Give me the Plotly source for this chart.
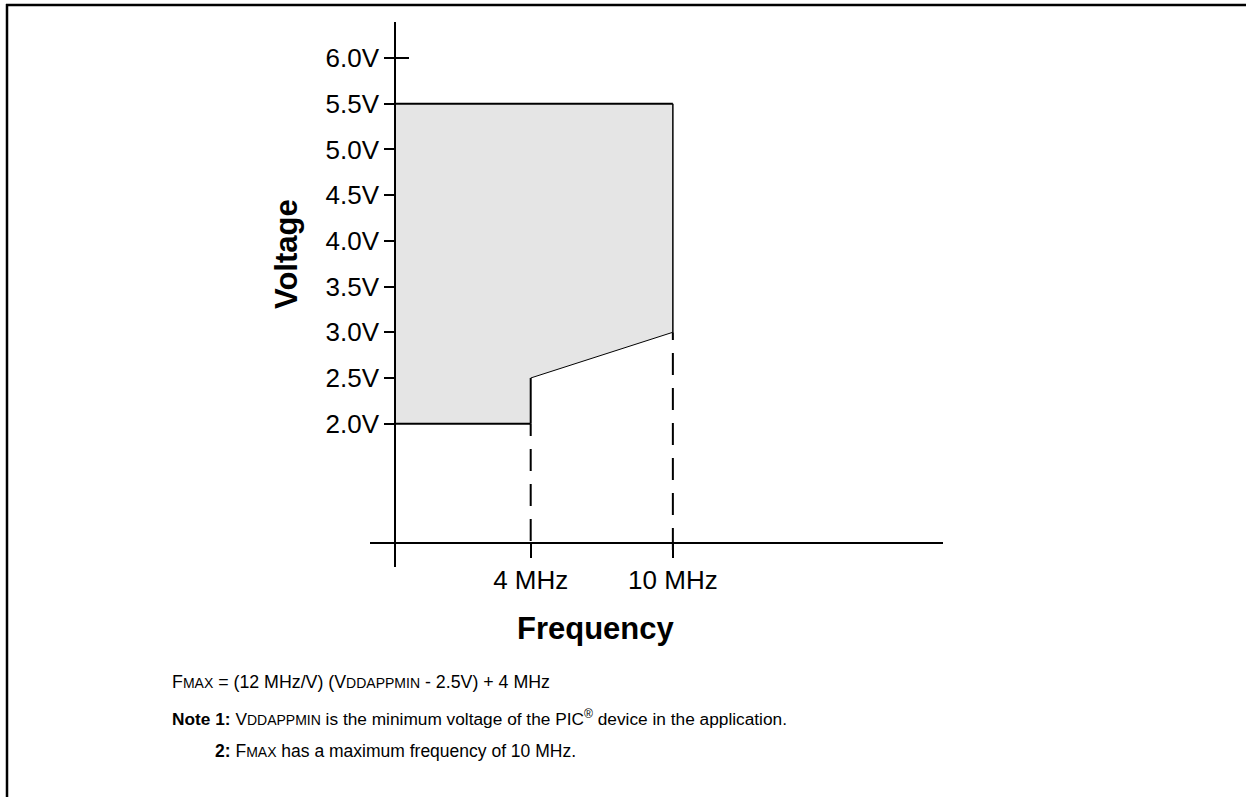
import numpy as np
import plotly.graph_objects as go

# ---------------- data ----------------
region_freq_mhz = [0, 4, 4, 10, 10, 0]          # operating region outline (frequency)
region_volt = [2.0, 2.0, 2.5, 3.0, 5.5, 5.5]    # operating region outline (voltage)
edge_widths = [2, 2, 1, 1.5, 2]                 # line width of each outline edge

y_tick_values = [2.0, 2.5, 3.0, 3.5, 4.0, 4.5, 5.0, 5.5, 6.0]
y_tick_labels = ["2.0V", "2.5V", "3.0V", "3.5V", "4.0V", "4.5V", "5.0V", "5.5V", "6.0V"]
x_tick_values = [4, 10]
x_tick_labels = ["4 MHz", "10 MHz"]
dashed_freq = [4, 10]       # dashed drop lines
dashed_volt = [2.0, 3.0]

# schematic frequency axis: 4..10 MHz span is drawn compressed
def fpos(f):
    return np.interp(f, [0, 4, 10], [0, 4, 8.2])

W, H = 1246, 797
FONT = "Liberation Sans, Arial, Helvetica, sans-serif"
NARROW = "Liberation Sans Narrow, Arial Narrow, Liberation Sans, Arial, sans-serif"

# pixel geometry of axes
PX_X0, PX_PER_U = 395.3, 33.85        # x pixel of 0 MHz, pixels per schematic unit
PX_V2, PX_PER_V = 423.7, 91.43        # y pixel of 2.0V, pixels per volt
X_DOM_PX = (370, 943)
Y_DOM_PX = (22, 567)
X_AXIS_PX = 543

def u_at(px):
    return (px - PX_X0) / PX_PER_U

def v_at(py):
    return 2.0 - (py - PX_V2) / PX_PER_V

fig = go.Figure()

# filled region
fig.add_trace(go.Scatter(
    x=fpos(region_freq_mhz), y=region_volt, mode="lines", fill="toself",
    fillcolor="#e5e5e5", line=dict(width=0), hoverinfo="skip", showlegend=False))

# outline edges
for i, w in enumerate(edge_widths):
    fig.add_trace(go.Scatter(
        x=fpos(region_freq_mhz[i:i + 2]), y=region_volt[i:i + 2], mode="lines",
        line=dict(color="black", width=w), hoverinfo="skip", showlegend=False))

# dashed drop lines (drawn upward from below the axis)
dash_start_px = [541, 550]
for f, v, sp in zip(dashed_freq, dashed_volt, dash_start_px):
    fig.add_trace(go.Scatter(
        x=fpos([f, f]), y=[v_at(sp), v], mode="lines",
        line=dict(color="black", width=2, dash="22px,13px"),
        hoverinfo="skip", showlegend=False))

fig.update_xaxes(
    domain=[X_DOM_PX[0] / W, X_DOM_PX[1] / W],
    range=[u_at(X_DOM_PX[0]), u_at(X_DOM_PX[1])],
    anchor="free", position=1 - X_AXIS_PX / H,
    showline=True, linecolor="black", linewidth=2,
    ticks="outside", ticklen=14, tickwidth=2, tickcolor="black",
    tickvals=list(fpos(x_tick_values)), ticktext=x_tick_labels,
    tickfont=dict(family=FONT, size=26, color="black"),
    showgrid=False, zeroline=False, fixedrange=True)

fig.update_yaxes(
    domain=[1 - Y_DOM_PX[1] / H, 1 - Y_DOM_PX[0] / H],
    range=[v_at(Y_DOM_PX[1]), v_at(Y_DOM_PX[0])],
    anchor="free", position=PX_X0 / W,
    showline=True, linecolor="black", linewidth=2,
    ticks="outside", ticklen=10, tickwidth=2, tickcolor="black",
    tickvals=y_tick_values, ticktext=y_tick_labels,
    tickfont=dict(family=FONT, size=26, color="black"),
    showgrid=False, zeroline=False, fixedrange=True)

shapes = [
    # 6.0V tick crosses the axis
    dict(type="line", xref="x", yref="y", x0=0, x1=u_at(409), y0=6.0, y1=6.0,
         line=dict(color="black", width=2)),
    # frame
    dict(type="line", xref="paper", yref="paper", x0=6 / W, x1=1.0, y0=1 - 5 / H, y1=1 - 5 / H,
         line=dict(color="black", width=2.5)),
    dict(type="line", xref="paper", yref="paper", x0=7 / W, x1=7 / W, y0=1 - 4 / H, y1=0,
         line=dict(color="black", width=2.5)),
]

def ann(text, px, py, size, family=FONT, xanchor="left", angle=0):
    return dict(text=text, x=px / W, y=1 - py / H, xref="paper", yref="paper",
                showarrow=False, xanchor=xanchor, yanchor="middle", textangle=angle,
                font=dict(family=family, size=size, color="black"))

S = "font-size:14px"
annotations = [
    ann("<b>Voltage</b>", 286, 254, 31, xanchor="center", angle=-90),
    ann("<b>Frequency</b>", 596, 628, 31, xanchor="center"),
    ann(f"F<span style='{S}'>MAX</span> = (12 MHz/V) (V<span style='{S}'>DDAPPMIN</span> - 2.5V) + 4 MHz",
        170, 682, 17.8, family=NARROW),
    ann(f"<b>Note 1:</b> V<span style='{S}'>DDAPPMIN</span> is the minimum voltage of the PIC<sup>®</sup> device in the application.",
        170, 718, 17.3, family=NARROW),
    ann(f"<b>2:</b> F<span style='{S}'>MAX</span> has a maximum frequency of 10 MHz.",
        213, 751, 17.5, family=NARROW),
]

fig.update_layout(
    width=W, height=H, margin=dict(l=0, r=0, t=0, b=0, pad=0),
    paper_bgcolor="white", plot_bgcolor="white",
    shapes=shapes, annotations=annotations, showlegend=False)

fig.write_html("out.html", config={"displayModeBar": False},
               post_script="document.body.style.margin='0';document.body.style.overflow='hidden';")
